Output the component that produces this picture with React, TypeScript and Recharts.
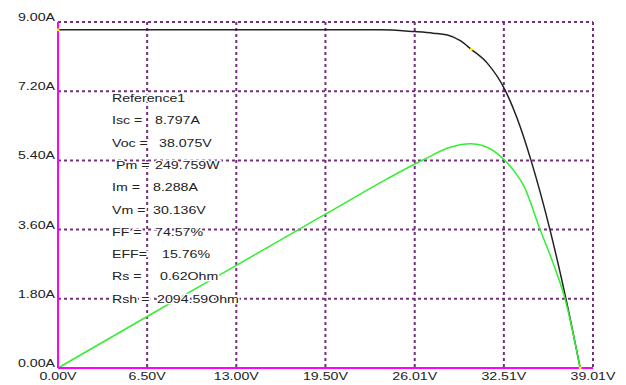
import { LineChart, Line, XAxis, YAxis, CartesianGrid, ReferenceDot } from 'recharts'

// I-V curve (black)
const ivVoltage = [0, 13, 23.5, 26, 27.35, 28.4, 29.3, 30.136, 31.3, 32.6, 33.47, 34.49, 35.87, 37.04, 38.075]
const ivCurrent = [8.8, 8.8, 8.8, 8.75, 8.71, 8.66, 8.52, 8.288, 7.93, 7.23, 6.5, 5.4, 3.6, 1.8, 0]

// P-V curve (green), drawn on the current scale
const pvVoltage = [0, 6.5, 13, 19.5, 24, 26.6, 28.6, 30.1, 31, 32.5, 33.3, 34.0, 35.15, 36.1, 36.97, 38.075]
const pvScaled = [0, 1.34, 2.67, 4.0, 4.92, 5.41, 5.74, 5.83, 5.78, 5.43, 5.1, 4.71, 3.6, 2.73, 1.8, 0]

const xTicks = [0, 6.5, 13, 19.5, 26.01, 32.51, 39.01]
const xLabels = ['0.00V', '6.50V', '13.00V', '19.50V', '26.01V', '32.51V', '39.01V']
const yTicks = [0, 1.8, 3.6, 5.4, 7.2, 9]
const yLabels = ['0.00A', '1.80A', '3.60A', '5.40A', '7.20A', '9.00A']

const paramLabels = ['Reference1', 'Isc =', 'Voc =', 'Pm =', 'Im =', 'Vm =', 'FF =', 'EFF=', 'Rs =', 'Rsh =']
const paramValues = ['', '8.797A', '38.075V', '249.759W', '8.288A', '30.136V', '74.57%', '15.76%', '0.62Ohm', '2094.59Ohm']

// key points marked with small yellow dots
const markers = [
  { v: 0, i: 8.8 },
  { v: 30.136, i: 8.288 },
  { v: 38.075, i: 0 },
]

const ivData = ivVoltage.map((v, k) => ({ v, iv: ivCurrent[k] }))
const pvData = pvVoltage.map((v, k) => ({ v, pv: pvScaled[k] }))

const FONT = '"Liberation Sans", Arial, sans-serif'
const SX = 1.35
const labelX = [112, 112, 112, 116, 112, 112, 112, 112, 112, 112]
const valueX = [0, 155, 159, 155, 153, 153, 155, 162, 160, 157]

const WideText = ({ x, y, anchor = 'start', children }: any) => (
  <text
    transform={`translate(${x},${y}) scale(${SX},1)`}
    textAnchor={anchor}
    fontSize={10.5}
    fill="#222"
    fontFamily={FONT}
  >
    {children}
  </text>
)

const XTick = (props: any) => {
  const { x, y, payload } = props
  const idx = xTicks.indexOf(payload.value)
  return <WideText x={x} y={y + 10} anchor="middle">{xLabels[idx]}</WideText>
}

const YTick = (props: any) => {
  const { x, y, payload } = props
  const idx = yTicks.indexOf(payload.value)
  return <WideText x={x} y={y - 1} anchor="end">{yLabels[idx]}</WideText>
}

const App = () => {
  return (
    <div style={{ position: 'fixed', left: 0, top: 0, width: 626, height: 385, background: '#fff' }}>
      <LineChart width={626} height={385} margin={{ top: 22, right: 33, left: 0, bottom: 0 }}>
        <CartesianGrid stroke="#74307a" strokeDasharray="3 3" strokeWidth={2} />
        <XAxis
          dataKey="v"
          type="number"
          domain={[0, 39.01]}
          ticks={xTicks}
          tick={<XTick />}
          tickLine={false}
          tickSize={0}
          height={17}
          axisLine={{ stroke: '#ff00ff', strokeWidth: 2 }}
          interval={0}
          allowDuplicatedCategory={false}
        />
        <YAxis
          type="number"
          domain={[0, 9]}
          ticks={yTicks}
          tick={<YTick />}
          tickLine={false}
          tickSize={0}
          tickMargin={3}
          width={58}
          axisLine={{ stroke: '#ff00ff', strokeWidth: 2 }}
          interval={0}
        />
        <Line data={ivData} type="monotone" dataKey="iv" stroke="#222" strokeWidth={1.5} dot={false} isAnimationActive={false} />
        <Line data={pvData} type="monotone" dataKey="pv" stroke="#33ee33" strokeWidth={1.5} dot={false} isAnimationActive={false} />
        {markers.map((m, k) => (
          <ReferenceDot key={k} x={m.v} y={m.i} r={1.5} fill="#ffee00" stroke="none" />
        ))}
      </LineChart>
      <svg width={626} height={385} style={{ position: 'absolute', left: 0, top: 0, pointerEvents: 'none' }}>
        {paramLabels.map((lab, k) => {
          const y = 102 + k * 22.3
          return (
            <g key={k} style={{ paintOrder: 'stroke' }} stroke="#fff" strokeWidth={2.5}>
              <WideText x={labelX[k]} y={y}>{lab}</WideText>
              {paramValues[k] && <WideText x={valueX[k]} y={y}>{paramValues[k]}</WideText>}
            </g>
          )
        })}
      </svg>
    </div>
  )
}

export default App
